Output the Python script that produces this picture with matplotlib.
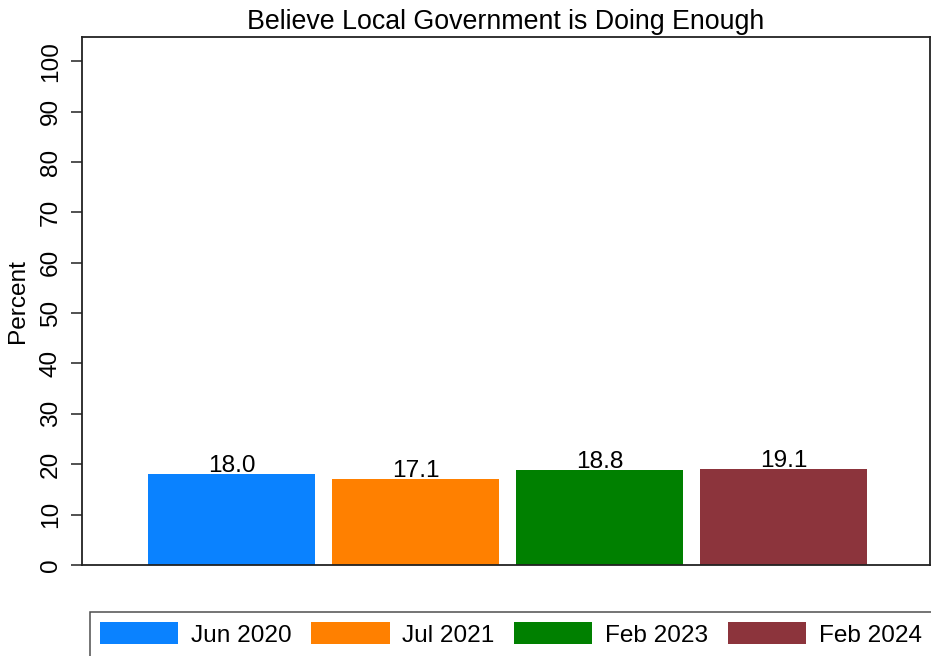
import matplotlib
matplotlib.use("Agg")
import matplotlib.pyplot as plt

plt.rcParams['font.family'] = ['Liberation Sans', 'DejaVu Sans']

# survey waves and share who believe local govt is doing enough
waves = ["Jun 2020", "Jul 2021", "Feb 2023", "Feb 2024"]
values = [18.0, 17.1, 18.8, 19.1]
colors = ["#0A82FF", "#FF8000", "#008000", "#8C343C"]
yticks = [0, 10, 20, 30, 40, 50, 60, 70, 80, 90, 100]

fs = 17.6

fig = plt.figure(figsize=(9.31, 6.56), dpi=100)
ax = fig.add_axes([82 / 931, 91 / 656, 848 / 931, 528 / 656])

for i in range(len(waves)):
    ax.bar(i, values[i], width=0.908, color=colors[i], label=waves[i])
    ax.annotate("%.1f" % values[i], (i, values[i]), xytext=(0, 1.5),
                textcoords="offset points", ha="center", va="baseline", fontsize=fs)

ax.set_xlim(-0.8125, 3.796)
ax.set_ylim(0, 104.8)
ax.set_xticks([])
ax.set_yticks(yticks)
ax.set_yticklabels([str(t) for t in yticks], rotation=90, va="center", fontsize=fs)
ax.tick_params(axis="y", length=8, width=1.1, pad=6.5, color="#222222")
ax.set_ylabel("Percent", fontsize=fs, labelpad=8)
ax.set_title("Believe Local Government is Doing Enough", fontsize=19.3, pad=6)

for s in ax.spines.values():
    s.set_linewidth(1.3)
    s.set_color("#222222")

leg = fig.legend(loc="upper left", bbox_to_anchor=(90 / 931, 44 / 656),
                 bbox_transform=fig.transFigure, ncol=4, fontsize=fs,
                 frameon=True, fancybox=False, edgecolor="#222222",
                 borderaxespad=0, borderpad=0.42, handlelength=3.2,
                 handleheight=1.0, handletextpad=0.52, columnspacing=0.8)
leg.get_frame().set_linewidth(1.1)

fig.savefig("out.png", dpi=100)
